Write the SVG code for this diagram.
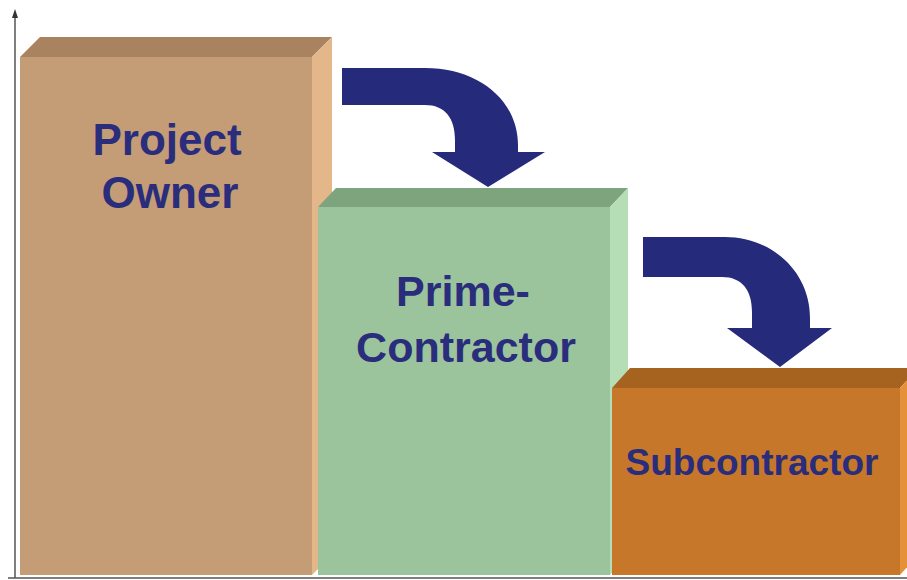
<svg xmlns="http://www.w3.org/2000/svg" width="907" height="580" viewBox="0 0 907 580">
<defs>
<style>
.lbl{font-family:"Liberation Sans",Arial,sans-serif;font-weight:bold;fill:#2A2D7C;text-anchor:middle}
.arrow{fill:#262A7B}
.axis{stroke:#555;stroke-width:1.5;fill:none}
</style>
</defs>
<rect width="907" height="580" fill="#fff"/>
<g id="axes">
<line class="axis" x1="15" y1="16" x2="15" y2="578"/>
<line class="axis" x1="8" y1="578" x2="907" y2="578"/>
<polygon points="15,9 12,18 18,18" fill="#333"/>
</g>
<g id="project-owner">
<polygon points="20,57 312,57 332,37 40,37" fill="#A9835F"/>
<polygon points="312,57 332,37 332,555 312,575" fill="#E3B789"/>
<rect x="20" y="57" width="292" height="518" fill="#C49C76"/>
<text class="lbl" x="167" y="155" font-size="44">Project</text>
<text class="lbl" x="170" y="208" font-size="44">Owner</text>
</g>
<g id="prime-contractor">
<polygon points="318,207 610,207 628,188 336,188" fill="#7EA47E"/>
<polygon points="610,207 628,188 628,555 610,575" fill="#B6DEB6"/>
<rect x="318" y="207" width="292" height="368" fill="#9CC49C"/>
<text class="lbl" x="463" y="306" font-size="43">Prime-</text>
<text class="lbl" x="466" y="362" font-size="43">Contractor</text>
</g>
<g id="subcontractor">
<polygon points="612,388 900,388 918,368 630,368" fill="#A5631F"/>
<polygon points="900,388 918,368 918,555 900,575" fill="#E5913A"/>
<rect x="612" y="388" width="288" height="187" fill="#C7772A"/>
<text class="lbl" x="752" y="475" font-size="37">Subcontractor</text>
</g>
<g id="connectors">
<path class="arrow" d="M342,68 L425,68 C478,68 518,100 518,145 L518,152 L545,152 L488,187 L432,152 L455,152 L455,140 C455,118 445,105 425,105 L342,105 Z"/>
<path class="arrow" d="M643,237 L725,237 C770,237 810,270 810,318 L810,328 L832,328 L780,367 L727,328 L752,328 L752,312 C752,290 742,277 722,277 L643,277 Z"/>
</g>
</svg>
